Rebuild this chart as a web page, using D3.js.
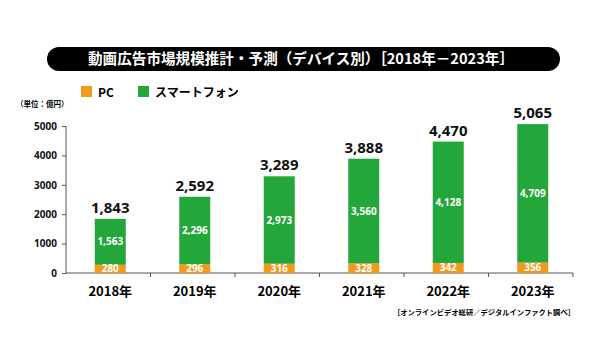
<!DOCTYPE html>
<html>
<head>
<meta charset="utf-8">
<script src="https://cdn.jsdelivr.net/npm/d3@7"></script>
<style>
  body { margin: 0; background: #fff; }
  text { font-family: "Noto Sans CJK JP", "Noto Sans", sans-serif; }
</style>
</head>
<body>
<div id="chart"></div>
<script>
const years = ["2018年", "2019年", "2020年", "2021年", "2022年", "2023年"];
const pcValues = [280, 296, 316, 328, 342, 356];
const spValues = [1563, 2296, 2973, 3560, 4128, 4709];
const totals = [1843, 2592, 3289, 3888, 4470, 5065];
const yTicks = [0, 1000, 2000, 3000, 4000, 5000];

const orange = "#f39a1a", green = "#23a63a";

const svg = d3.select("#chart").append("svg")
    .attr("width", 600)
    .attr("height", 350);

// title pill
svg.append("rect")
    .attr("x", 47).attr("y", 47)
    .attr("width", 513).attr("height", 24)
    .attr("rx", 12)
    .attr("fill", "#000");
svg.append("text")
    .attr("x", 301).attr("y", 64)
    .attr("text-anchor", "middle")
    .attr("fill", "#fff")
    .style("font-size", "14.6px")
    .style("font-weight", "bold")
    .text("動画広告市場規模推計・予測（デバイス別）［2018年－2023年］");

// legend
const legend = [["PC", orange, 81], ["スマートフォン", green, 138]];
legend.forEach(([label, c, lx]) => {
    svg.append("rect").attr("x", lx).attr("y", 86).attr("width", 11).attr("height", 11).attr("fill", c);
    svg.append("text").attr("x", lx + 17).attr("y", 96.5)
        .style("font-size", "12px").style("font-weight", "bold")
        .text(label);
});

svg.append("text")
    .attr("x", 16).attr("y", 107)
    .style("font-size", "7.5px").style("font-weight", "bold")
    .text("（単位：億円）");

const x = d3.scaleBand().domain(years).range([66, 573]);
const y = d3.scaleLinear().domain([0, 5000]).range([273, 126]);

// y axis
const yAxis = svg.append("g")
    .attr("transform", "translate(66,0)")
    .call(d3.axisLeft(y).tickValues(yTicks).tickSize(4).tickFormat(d3.format("d")));
yAxis.select(".domain").attr("d", "M0,126V273").attr("stroke", "#555");
yAxis.selectAll(".tick line").attr("stroke", "#555");
yAxis.selectAll(".tick text")
    .attr("x", -9)
    .style("font-size", "10px").style("font-weight", "bold")
    .style("font-family", "'Noto Sans', sans-serif")
    .attr("fill", "#111");

// x axis with ticks between bands
const xAxis = svg.append("g").attr("transform", "translate(0,273)");
xAxis.append("line").attr("x1", 66).attr("x2", 573).attr("stroke", "#555");
xAxis.selectAll(".sep").data(years)
    .join("line")
    .attr("x1", d => x(d) + x.step())
    .attr("x2", d => x(d) + x.step())
    .attr("y1", 0).attr("y2", 4)
    .attr("stroke", "#555");
xAxis.selectAll(".lbl").data(years)
    .join("text")
    .attr("x", d => x(d) + x.bandwidth() / 2 + 2)
    .attr("y", 23)
    .attr("text-anchor", "middle")
    .style("font-size", "13px").style("font-weight", "bold")
    .text(d => d);

const barW = 31;
const g = svg.append("g");
years.forEach((yr, i) => {
    const cx = x(yr) + x.bandwidth() / 2 + 2;
    g.append("rect")
        .attr("x", cx - barW / 2).attr("width", barW)
        .attr("y", y(pcValues[i])).attr("height", y(0) - y(pcValues[i]))
        .attr("fill", orange);
    g.append("rect")
        .attr("x", cx - barW / 2).attr("width", barW)
        .attr("y", y(pcValues[i] + spValues[i])).attr("height", y(pcValues[i]) - y(pcValues[i] + spValues[i]))
        .attr("fill", green);
    g.append("text")
        .attr("x", cx).attr("y", y(pcValues[i] / 2) + 3.5)
        .attr("text-anchor", "middle").attr("fill", "#fff")
        .style("font-size", "10px").style("font-weight", "bold")
        .style("font-family", "'Noto Sans', sans-serif")
        .text(d3.format(",")(pcValues[i]));
    g.append("text")
        .attr("x", cx).attr("y", y(pcValues[i] + spValues[i] / 2) + 3.5)
        .attr("text-anchor", "middle").attr("fill", "#fff")
        .style("font-size", "10px").style("font-weight", "bold")
        .style("font-family", "'Noto Sans', sans-serif")
        .text(d3.format(",")(spValues[i]));
    g.append("text")
        .attr("x", cx).attr("y", y(totals[i]) - 6)
        .attr("text-anchor", "middle").attr("fill", "#111")
        .style("font-size", "15px").style("font-weight", "bold")
        .style("font-family", "'Noto Sans', sans-serif")
        .text(d3.format(",")(totals[i]));
});

svg.append("text")
    .attr("x", 575).attr("y", 315)
    .attr("text-anchor", "end")
    .style("font-size", "7.3px").style("font-weight", "bold")
    .text("［オンラインビデオ総研／デジタルインファクト調べ］");
</script>
</body>
</html>
